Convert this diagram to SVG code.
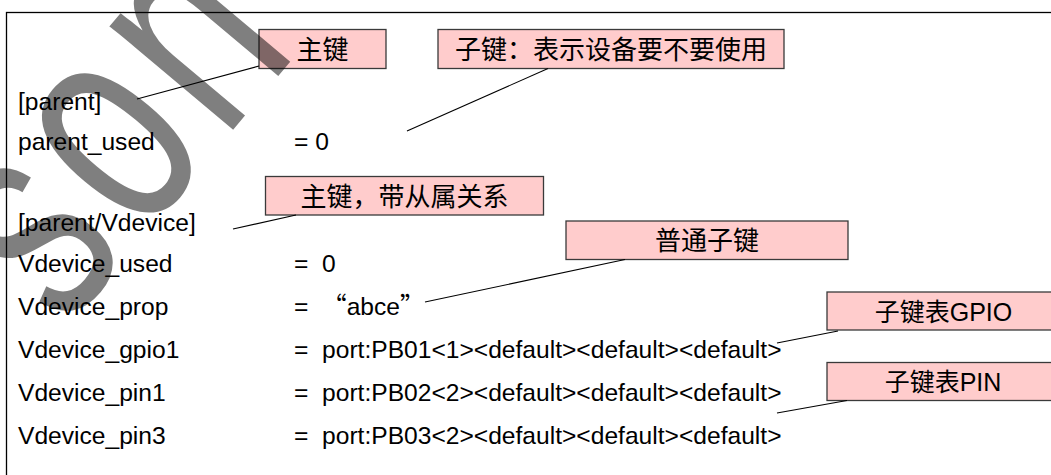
<svg xmlns="http://www.w3.org/2000/svg" width="1051" height="475" viewBox="0 0 1051 475">
<style>
.lbl{font-family:"Liberation Sans",Arial,sans-serif;font-size:24.6px;fill:#000;white-space:pre}
.q{font-family:"Noto Sans CJK SC",sans-serif}
.box{fill:#FFCCCC;stroke:#3a3a3a;stroke-width:1.3}
.cjk{font-family:"Liberation Sans","Noto Sans CJK SC",sans-serif;font-size:26px;text-anchor:middle;fill:#000}
.conn line{stroke:#000;stroke-width:1.1}
.wm{font-family:"Liberation Sans",Arial,sans-serif;font-size:305px;fill:#000;fill-opacity:0.5}
</style>
<rect x="6.5" y="12.5" width="1200" height="600" fill="#fff" stroke="#000" stroke-width="1.3"/>
<g id="labels">
<text class="lbl" x="18" y="110">[parent]</text>
<text class="lbl" x="18" y="150">parent_used</text>
<text class="lbl" x="294" y="150" xml:space="preserve">= 0</text>
<text class="lbl" x="18" y="231">[parent/Vdevice]</text>
<text class="lbl" x="18" y="272">Vdevice_used</text>
<text class="lbl" x="294" y="272" xml:space="preserve">=  0</text>
<text class="lbl" x="18" y="315">Vdevice_prop</text>
<text class="lbl" x="294" y="315" xml:space="preserve">=  <tspan class="q">“</tspan>abce<tspan class="q">”</tspan></text>
<text class="lbl" x="18" y="358">Vdevice_gpio1</text>
<text class="lbl" x="294" y="358" xml:space="preserve">=  port:PB01&lt;1&gt;&lt;default&gt;&lt;default&gt;&lt;default&gt;</text>
<text class="lbl" x="18" y="401">Vdevice_pin1</text>
<text class="lbl" x="294" y="401" xml:space="preserve">=  port:PB02&lt;2&gt;&lt;default&gt;&lt;default&gt;&lt;default&gt;</text>
<text class="lbl" x="18" y="444">Vdevice_pin3</text>
<text class="lbl" x="294" y="444" xml:space="preserve">=  port:PB03&lt;2&gt;&lt;default&gt;&lt;default&gt;&lt;default&gt;</text>
</g>
<g id="n1"><rect class="box" x="259" y="29.5" width="127" height="39"/><text class="cjk" x="322.5" y="58.5">主键</text></g>
<g id="n2"><rect class="box" x="438" y="29.5" width="346" height="39"/><text class="cjk" x="611" y="58.5">子键：表示设备要不要使用</text></g>
<g id="n3"><rect class="box" x="265.5" y="176.5" width="278" height="38.5"/><text class="cjk" x="404.5" y="205.5">主键，带从属关系</text></g>
<g id="n4"><rect class="box" x="566" y="221" width="282" height="38.5"/><text class="cjk" x="707" y="250">普通子键</text></g>
<g id="n5"><rect class="box" x="827" y="292" width="235" height="38"/><text class="cjk" x="943.5" y="320.5" style="font-size:25px">子键表GPIO</text></g>
<g id="n6"><rect class="box" x="827" y="362.5" width="235" height="38"/><text class="cjk" x="943" y="391" style="font-size:25px">子键表PIN</text></g>
<g id="connectors" class="conn">
<line x1="137" y1="99" x2="259" y2="66"/>
<line x1="407" y1="131" x2="548" y2="68.5"/>
<line x1="233" y1="229" x2="296" y2="215"/>
<line x1="425" y1="302" x2="625" y2="259.5"/>
<line x1="777" y1="343" x2="838" y2="331"/>
<line x1="777" y1="413" x2="847" y2="400.5"/>
</g>
<g id="watermark" transform="translate(222,143) rotate(-50) scale(0.69,1)">
<text class="wm" x="-355 -183.5 4" y="0">son</text>
</g>
</svg>
